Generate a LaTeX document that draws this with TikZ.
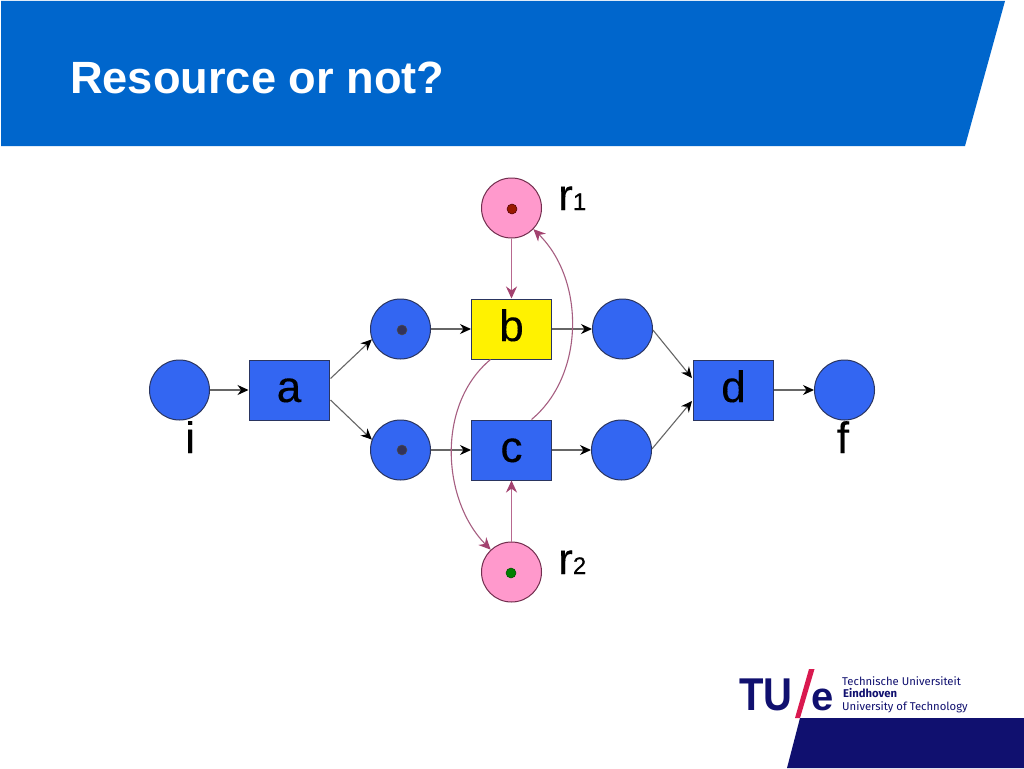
\documentclass[tikz,border=0pt]{standalone}
\usepackage{fontspec}
\setmainfont{Liberation Sans}
\newfontfamily\logofont{Fira Sans}
\newfontfamily\labfont[FakeBold=0.25]{Liberation Sans}
\usetikzlibrary{arrows.meta,calc}
\definecolor{headblue}{HTML}{0066CC}
\definecolor{netblue}{HTML}{3366F2}
\definecolor{rpink}{HTML}{FF99CC}
\definecolor{rarc}{HTML}{B8688F}
\definecolor{rhead}{HTML}{A3426F}
\definecolor{tuback}{HTML}{10106F}
\definecolor{tured}{HTML}{D9194F}
\definecolor{nodeline}{HTML}{2A3560}
\tikzset{
 x=1pt,y=-1pt,
 place/.style={circle,draw=nodeline,line width=1pt,fill=netblue,minimum size=60pt,inner sep=0pt},
 rplace/.style={circle,draw=rhead!70!black,line width=1pt,fill=rpink,minimum size=60pt,inner sep=0pt},
 trans/.style={rectangle,draw=nodeline,line width=1pt,fill=netblue,minimum width=80pt,inner sep=0pt,text height=42pt,text depth=18pt,text=black,font=\labfont\fontsize{44}{44}\selectfont},
 tok/.style={circle,draw=black!70,line width=.5pt,minimum size=10pt,inner sep=0pt},
 arc/.style={-{Stealth[length=11pt,width=10pt,color=black]},line width=1.1pt,draw=black!60},
 resarc/.style={-{Stealth[length=12pt,width=11pt,color=rhead]},line width=1.8pt,draw=rarc},
 curvearc/.style={resarc,line width=1.1pt,draw=rarc!90!black},
 lab/.style={inner sep=0pt,anchor=base west,font=\labfont\fontsize{44}{44}\selectfont},
 logotext/.style={inner sep=0pt,anchor=south west,align=left,text=tuback,font=\logofont\fontsize{11.3}{12.5}\selectfont},
}
\begin{document}
\begin{tikzpicture}
\useasboundingbox (0,0) rectangle (1024,768);
\fill[white] (0,0) rectangle (1024,768);
\fill[headblue] (1,1) -- (1005,1) -- (965,146) -- (1,146) -- cycle;
\node[inner sep=0pt,anchor=base west,text=white,font=\fontsize{45.2}{46}\selectfont\bfseries] (title) at (70,93) {Resource or not?};
% footer
\fill[tuback] (800,718) -- (1024,718) -- (1024,768) -- (787,768) -- cycle;
\fill[tured] (809,669) -- (814.5,669) -- (800,718) -- (795,718) -- cycle;
\node[inner sep=0pt,anchor=base west,text=tuback,font=\fontsize{46}{46}\selectfont\bfseries] (tu) at (739,710) {\scalebox{.87}[1]{TU}};
\node[inner sep=0pt,anchor=base west,text=tuback,font=\fontsize{40}{40}\selectfont\bfseries] (e) at (811,710) {e};
\node[logotext] (logo) at (842,713) {Technische Universiteit\\\hspace*{1pt}{\bfseries Eindhoven}\\University of Technology};
% places
\node[place] (i) at (179.5,390) {};
\node[place] (p1) at (400.5,329) {};
\node[place] (p2) at (400.5,450) {};
\node[place] (q1) at (622.5,329) {};
\node[place] (q2) at (621.5,450) {};
\node[place] (f) at (844.5,390) {};
\node[rplace] (r1) at (511.5,208) {};
\node[rplace] (r2) at (511.5,572) {};
% transitions
\node[trans] (a) at (289,390) {a};
\node[trans,fill=yellow] (b) at (511.5,329) {b};
\node[trans] (c) at (511.5,450) {c};
\node[trans] (d) at (733.5,390) {d};
% tokens
\node[tok,fill=black!75!blue!60!gray] (t1) at (402,330) {};
\node[tok,fill=black!75!blue!60!gray] (t2) at (402,450) {};
\node[tok,fill=red!50!black!80!orange,draw=red!30!black] (t3) at (512,209) {};
\node[tok,fill=green!50!black,draw=green!30!black] (t4) at (511,573) {};
% labels
\node[lab] (li) at (185,453) {i};
\node[lab] (lf) at (836.5,453) {f};
\node[lab] (lr1) at (558,210) {r\fontsize{24}{24}\selectfont 1};
\node[lab] (lr2) at (558,574) {r\fontsize{24}{24}\selectfont 2};
% arcs
\draw[arc] (i) -- (a);
\coordinate (a1) at ($(a.east)+(1,-11.5)$);
\coordinate (a2) at ($(a.east)+(1,10)$);
\coordinate (d1) at ($(d.west)+(-1,-12)$);
\coordinate (d2) at ($(d.west)+(-1,11)$);
\draw[arc] (a1) -- (p1.200);
\draw[arc] (a2) -- (p2.160);
\draw[arc] (p1) -- (b);
\draw[arc] (p2) -- (c);
\draw[arc] (b) -- (q1);
\draw[arc] (c) -- (q2);
\draw[arc] (q1.-2) -- (d1);
\draw[arc] (q2.2) -- (d2);
\draw[arc] (d) -- (f);
\draw[resarc] (r1) -- (b);
\draw[resarc] (r2) -- (c);
\draw[curvearc] ([xshift=-21pt]b.south) .. controls (436,405) and (442,500) .. (r2.133);
\draw[curvearc] ([xshift=20pt]c.north) .. controls (585,375) and (585,280) .. (r1.-44);
\end{tikzpicture}
\end{document}
